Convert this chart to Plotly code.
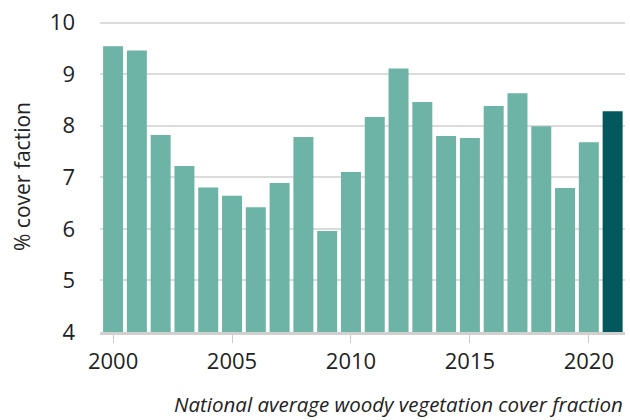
import plotly.graph_objects as go

years = list(range(2000, 2022))
cover = [9.54, 9.46, 7.82, 7.22, 6.80, 6.64, 6.42, 6.89, 7.78, 5.96, 7.10,
         8.17, 9.11, 8.46, 7.80, 7.76, 8.38, 8.63, 7.99, 6.79, 7.68, 8.28]
x_ticks = [2000, 2005, 2010, 2015, 2020]
y_ticks = [4, 5, 6, 7, 8, 9, 10]

LIGHT = "#6db4a7"
DARK = "#03585d"
INK = "#222222"
FONT = "Open Sans"

colors = [LIGHT] * (len(years) - 1) + [DARK]

fig = go.Figure(
    go.Bar(
        x=years,
        y=cover,
        marker_color=colors,
        marker_line_width=0,
    )
)

fig.update_layout(
    width=630,
    height=420,
    margin={"l": 100, "r": 5, "t": 21, "b": 88},
    paper_bgcolor="white",
    plot_bgcolor="white",
    bargap=0.16,
    showlegend=False,
    font={"family": FONT, "size": 22, "color": INK},
)

fig.update_xaxes(
    range=[1999.45, 2021.52],
    tickvals=x_ticks,
    ticks="outside",
    ticklen=8,
    tickwidth=1,
    tickcolor="#cccccc",
    showline=True,
    linecolor="#d0d0d0",
    linewidth=3,
    showgrid=False,
    zeroline=False,
    tickfont={"size": 22},
)

fig.update_yaxes(
    range=[4, 10.03],
    tickvals=y_ticks,
    showgrid=True,
    gridcolor="#dcdcdc",
    gridwidth=2,
    zeroline=False,
    ticks="",
    ticklabelstandoff=24,
    tickfont={"size": 22},
    title={"text": "% cover faction", "font": {"size": 21}, "standoff": 13},
)

fig.add_annotation(
    text="<i>National average woody vegetation cover fraction</i>",
    xref="paper",
    yref="paper",
    x=1,
    y=-0.232,
    xanchor="right",
    yanchor="middle",
    showarrow=False,
    font={"family": FONT, "size": 20.5, "color": INK},
)

fig.write_html(
    "out.html",
    config={"displayModeBar": False},
    post_script="document.body.style.margin='0';",
)
